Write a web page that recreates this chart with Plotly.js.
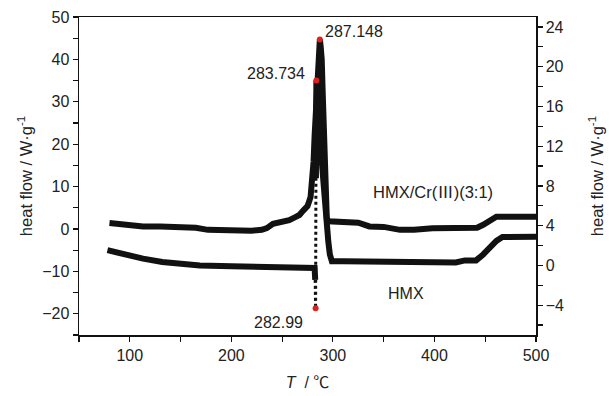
<!DOCTYPE html>
<html><head><meta charset="utf-8">
<script src="https://cdn.plot.ly/plotly-3.0.1.min.js"></script>
<style>html,body{margin:0;padding:0;background:#fff}#c{width:609px;height:396px}</style>
</head><body><div id="c"></div>
<script>
// HMX/Cr(III)(3:1) curve (left axis units, W/g)
const T_cr = [80, 90, 100, 113, 130, 150, 165, 177, 200, 209, 220, 230, 235, 241, 250, 257, 263, 267, 271, 275, 278, 280, 281, 282, 283, 284, 285, 286, 287.148, 288, 289, 290, 291, 292, 293, 294, 296, 310, 325, 336, 350, 366, 380, 398, 420, 442, 448, 455, 461, 480, 500];
const v_cr = [1.4, 1.1, 0.9, 0.6, 0.6, 0.5, 0.3, -0.2, -0.3, -0.5, -0.4, -0.2, 0.2, 1.2, 1.6, 2.1, 2.8, 3.3, 4.4, 5.4, 7.5, 11.6, 16, 22, 28, 34, 38, 41, 44.7, 43, 40, 32, 22, 12, 5, 2.5, 1.8, 1.6, 1.5, 0.6, 0.5, -0.2, -0.2, 0.2, 0.2, 0.3, 1.0, 2.0, 2.9, 2.9, 2.9];
// HMX curve, before the endotherm
const T_hmx1 = [78, 90, 97, 113, 132, 150, 169, 200, 245, 270, 280, 282, 282.6];
const v_hmx1 = [-5.0, -5.8, -6.2, -7.0, -7.8, -8.2, -8.6, -8.8, -9.0, -9.0, -9.0, -9.2, -12];
// HMX dotted (fast) section
const T_hmxDot = [282.6, 282.99, 283.3];
const v_hmxDot = [-12, -18.7, 12];
// HMX curve, after the exotherm peak
const T_hmx2 = [283.3, 283.734, 285, 287, 289, 291, 293, 294, 295.5, 297, 299, 310, 330, 355, 380, 421, 430, 441, 448, 455, 461, 467, 480, 500];
const v_hmx2 = [12, 35, 30, 22, 15, 8, 2, 0, -3, -6, -7.6, -7.6, -7.6, -7.7, -7.9, -7.9, -7.4, -7.4, -6, -4.3, -2.8, -1.9, -1.8, -1.8];
// labelled peaks
const peakT = [287.148, 283.734, 282.99];
const peakV = [44.7, 35.0, -18.7];
const peakLabels = ['287.148', '283.734', '282.99'];
const seriesNames = ['HMX/Cr(Ⅲ)(3:1)', 'HMX'];

const FONT = '"Liberation Sans", Arial, "Noto Sans CJK SC", sans-serif';
const black = '#111';
const lineStyle = {color: black, width: 6};

const traces = [
  {x: T_cr, y: v_cr, mode: 'lines', line: lineStyle, showlegend: false, hoverinfo: 'skip'},
  {x: T_hmx1, y: v_hmx1, mode: 'lines', line: lineStyle, showlegend: false},
  {x: T_hmxDot, y: v_hmxDot, mode: 'lines', line: {color: black, width: 3, dash: 'dot'}, showlegend: false},
  {x: T_hmx2, y: v_hmx2, mode: 'lines', line: lineStyle, showlegend: false},
  {x: peakT, y: peakV, mode: 'markers', marker: {color: '#e0201e', size: 6}, showlegend: false},
  {x: [null], y: [null], yaxis: 'y2', mode: 'lines', showlegend: false}
];

const tickfont = {family: FONT, size: 16, color: '#222'};
const layout = {
  width: 609, height: 396,
  margin: {l: 79, r: 73, t: 17, b: 61},
  paper_bgcolor: '#fff', plot_bgcolor: '#fff',
  font: {family: FONT, size: 16, color: '#222'},
  xaxis: {
    range: [50, 500], tickvals: [100, 200, 300, 400, 500], ticks: 'outside', ticklen: 5, tickwidth: 1.2,
    showline: true, linecolor: black, linewidth: 1.5, mirror: true, showgrid: false, zeroline: false,
    minor: {tickvals: [50, 150, 250, 350, 450], ticks: 'outside', ticklen: 5, tickwidth: 1.2, tickcolor: black, showgrid: false},
    tickcolor: black, tickfont: tickfont,
    title: {text: '<i>T</i>  / ℃', font: {family: FONT, size: 16, color: '#222'}, standoff: 14}
  },
  yaxis: {
    range: [-25, 50], dtick: 10, ticks: 'outside', ticklen: 5, tickwidth: 1.2, tickcolor: black,
    showline: true, linecolor: black, linewidth: 1.5, showgrid: false, zeroline: false,
    minor: {dtick: 5, ticks: 'outside', ticklen: 5, tickwidth: 1.2, tickcolor: black, showgrid: false},
    tickfont: tickfont,
    title: {text: 'heat flow / W·g<sup>-1</sup>', font: {family: FONT, size: 16.5, color: '#222'}, standoff: 5}
  },
  yaxis2: {
    overlaying: 'y', side: 'right', range: [-7, 25], dtick: 4, ticks: 'outside', ticklen: 5, tickwidth: 1.2, tickcolor: black,
    showline: true, linecolor: black, linewidth: 1.5, showgrid: false, zeroline: false,
    minor: {dtick: 2, ticks: 'outside', ticklen: 5, tickwidth: 1.2, tickcolor: black, showgrid: false},
    tickfont: tickfont,
    title: {text: 'heat flow / W·g<sup>-1</sup>', font: {family: FONT, size: 16.5, color: '#222'}, standoff: 28}
  },
  annotations: [
    {x: 290, y: 46.6, xref: 'x', yref: 'y', text: peakLabels[0], showarrow: false, xanchor: 'left', font: {size: 16}},
    {x: 274.5, y: 36.6, xref: 'x', yref: 'y', text: peakLabels[1], showarrow: false, xanchor: 'right', font: {size: 16}},
    {x: 273, y: -22.1, xref: 'x', yref: 'y', text: peakLabels[2], showarrow: false, xanchor: 'right', font: {size: 16}},
    {x: 398.5, y: 8.8, xref: 'x', yref: 'y', text: seriesNames[0], showarrow: false, font: {size: 16.5}},
    {x: 372, y: -15.2, xref: 'x', yref: 'y', text: seriesNames[1], showarrow: false, font: {size: 16}}
  ]
};
Plotly.newPlot('c', traces, layout, {displayModeBar: false, staticPlot: true});
</script></body></html>
